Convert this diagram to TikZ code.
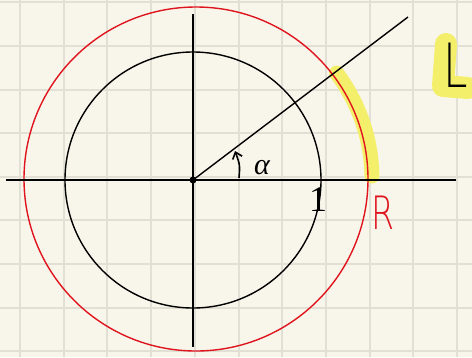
\documentclass[tikz,border=0pt]{standalone}
\usepackage{fontspec}
\usepackage{tikz}
\usetikzlibrary{arrows.meta}
\newfontfamily\handserif{Liberation Serif}
\newfontfamily\handsans{DejaVu Sans ExtraLight}
\definecolor{papercream}{HTML}{F8F6EA}
\definecolor{gridgrey}{HTML}{E2E0D4}
\definecolor{penred}{HTML}{E0141E}
\definecolor{markeryellow}{HTML}{F4EF6A}

\begin{document}
\begin{tikzpicture}[x=1pt,y=-1pt,line width=1.4pt,
    gridline/.style={gridgrey,line width=2pt},
    hilite/.style={markeryellow,line cap=round,line join=round},
    every node/.style={inner sep=0pt}]
    \useasboundingbox (0,0) rectangle (472,357);
    \fill[papercream] (0,0) rectangle (472,357);
    \foreach \i in {0,...,10}{\draw[gridline] ({20+43.7*\i},0)--({20+43.7*\i},357);}
    \foreach \j in {0,...,8}{\draw[gridline] (0,{2.3+43.6*\j})--(472,{2.3+43.6*\j});}
    \coordinate (O) at (193,180);
    \coordinate (Rc) at (196,179);
    \draw[hilite,line width=15pt] (Rc) ++(-1:176) arc[start angle=-1,end angle=-37,radius=176];
    \draw[hilite,line width=22pt] (446,44)--(443,86)--(468,88);
    \draw (O) circle[radius=128];
    \draw[penred] (Rc) circle[radius=172];
    \draw (6,180)--(456,180);
    \draw (193,14)--(193,347);
    \draw (O)--(408,17);
    \fill (O) circle[radius=3.5];
    \draw[line width=1.6pt,-{Straight Barb[length=6pt,width=10pt]}] (239,178) .. controls (240,165) .. (235,151);
    \node[font=\handserif\itshape\fontsize{30}{30}\selectfont] (alpha) at (262,168) {α};
    \node[font=\handserif\fontsize{36}{36}\selectfont] (one) at (318,200) {1};
    \node[penred,xscale=0.72,font=\handsans\fontsize{46}{46}\selectfont] (R) at (383,213) {R};
    \node[xscale=0.72,font=\handsans\fontsize{61}{61}\selectfont] (L) at (456,65) {L};
  \end{tikzpicture}
\end{document}
